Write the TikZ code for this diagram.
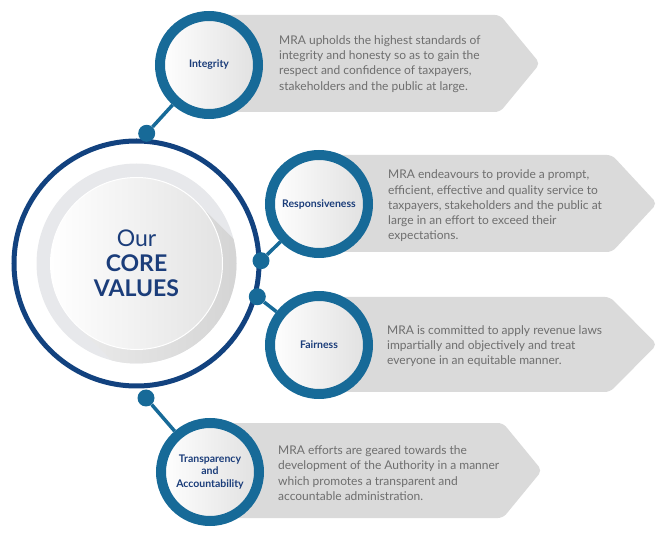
\documentclass[tikz,border=0pt]{standalone}
\usepackage{fontspec}
\setmainfont{Lato}
\usepackage{tikz}
\usetikzlibrary{positioning,calc}
\definecolor{navy}{HTML}{12427F}
\definecolor{ring}{HTML}{176A98}
\definecolor{ink}{HTML}{1B3D7A}
\definecolor{bannergrey}{HTML}{DADADA}
\definecolor{bodytext}{HTML}{6E6E6E}
\definecolor{halo}{HTML}{E7E8EB}
\tikzset{
  valuering/.style={circle,draw=ring,line width=10pt,minimum size=98pt,inner sep=0pt,
    left color=white,right color=black!12,align=center,text=ink,
    font=\fontsize{10.5}{12.5}\selectfont\bfseries},
  joint/.style={circle,fill=ring,minimum size=17pt,inner sep=0pt},
  link/.style={draw=ring,line width=3.5pt},
  banner/.style={fill=bannergrey,rounded corners=5pt},
  desc/.style={anchor=west,align=left,inner sep=0pt,text=bodytext,
    font=\fontsize{12}{15.3}\selectfont}
}
\begin{document}
\begin{tikzpicture}[x=1pt,y=-1pt]
  \useasboundingbox (0,0) rectangle (672,534);
  % grey banners behind the rings
  \fill[banner] (209,15) -- (500,15) -- (540,63.5) -- (500,112) -- (209,112) -- cycle;
  \fill[banner] (319,155) -- (612,155) -- (657,203.5) -- (612,252) -- (319,252) -- cycle;
  \fill[banner] (319,297) -- (610,297) -- (657,344.5) -- (610,392) -- (319,392) -- cycle;
  \fill[banner] (210,423) -- (503,423) -- (542,470.5) -- (503,518) -- (210,518) -- cycle;
  % hub
  \node[circle,draw=navy,line width=5pt,minimum size=245pt,inner sep=0pt] (core) at (136.5,263.5) {};
  \fill[halo] (core.center) circle (100);
  \begin{scope}
    \clip (core.center) circle (100);
    \shade[left color=black!8,right color=black!20]
      ($(core.center)+(60.8,-60.8)$) -- ++(100,100) -- ++(-121.6,121.6) -- ++(-100,-100) -- cycle;
  \end{scope}
  \node[circle,draw=white,line width=1pt,minimum size=172pt,inner sep=0pt,
    left color=white,right color=black!11,text=ink,align=center,
    font=\fontsize{23}{25}\selectfont] (hub) at (core.center)
    {Our\\\bfseries CORE\\\bfseries VALUES};
  % joints on the hub
  \node[joint] (j1) at (146.7,133.3) {};
  \node[joint] (j2) at (261,260.7) {};
  \node[joint] (j3) at (257.3,296.7) {};
  \node[joint] (j4) at (146,398) {};
  % value rings
  \node[valuering] (integrity) at (209,65) {Integrity};
  \node[valuering] (respons) at (319,204) {Responsiveness};
  \node[valuering] (fair) at (319,345) {Fairness};
  \node[valuering] (transp) at (210,472) {Transparency\\and\\Accountability};
  \draw[link] (j1) -- (integrity);
  \draw[link] (j2) -- (respons);
  \draw[link] (j3) -- (fair);
  \draw[link] (j4) -- (transp);
  % descriptions
  \node[desc] (tint) at (279,64) {MRA upholds the highest standards of\\integrity and honesty so as to gain the\\respect and confidence of taxpayers,\\stakeholders and the public at large.};
  \node[desc] (tres) at (388,206) {MRA endeavours to provide a prompt,\\efficient, effective and quality service to\\taxpayers, stakeholders and the public at\\large in an effort to exceed their\\expectations.};
  \node[desc] (tfai) at (387,346) {MRA is committed to apply revenue laws\\impartially and objectively and treat\\everyone in an equitable manner.};
  \node[desc] (ttra) at (278,473) {MRA efforts are geared towards the\\development of the Authority in a manner\\which promotes a transparent and\\accountable administration.};
\end{tikzpicture}
\end{document}
